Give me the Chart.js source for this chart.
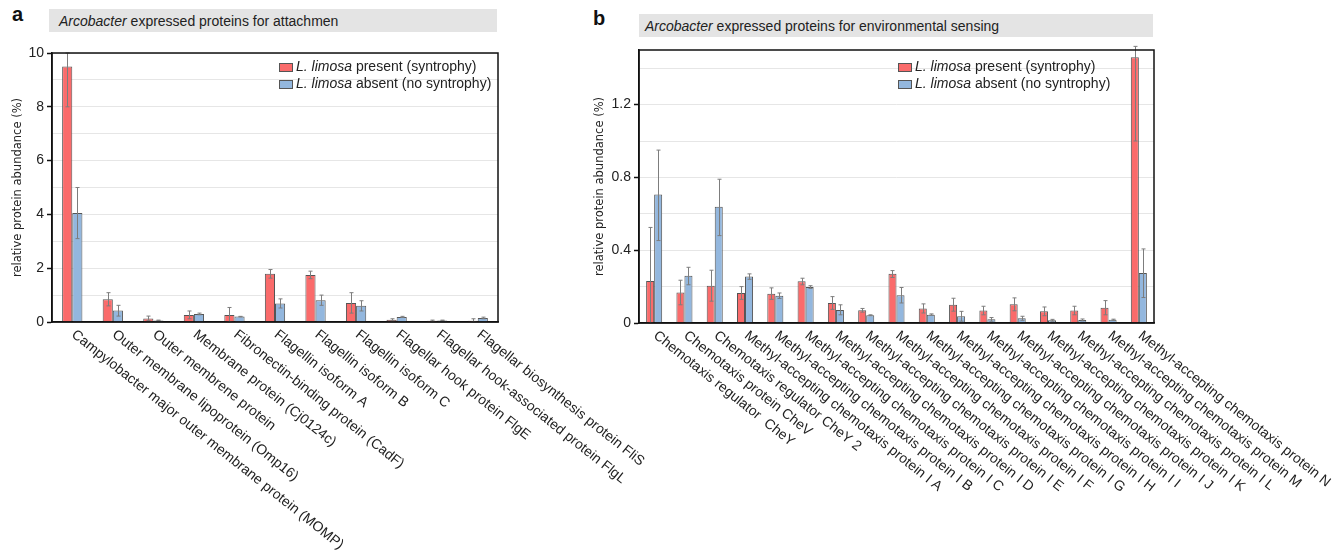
<!DOCTYPE html>
<html>
<head>
<meta charset="utf-8">
<script src="https://cdn.jsdelivr.net/npm/chart.js@4.4.0/dist/chart.umd.min.js"></script>
<style>
    body { margin: 0; background: #fff; width: 1339px; height: 555px; position: relative; overflow: hidden;
           font-family: 'Liberation Sans', Arial, sans-serif; }
    .wrap { position: absolute; top: 0; height: 555px; }
    .letter { position: absolute; font-weight: bold; font-size: 20px; color: #111; }
    .head { position: absolute; background: #e4e4e4; height: 23px; line-height: 24px; font-size: 14px;
            color: #222; white-space: nowrap; box-sizing: border-box; }
</style>
</head>
<body>
<div class="letter" style="left:12px;top:3px">a</div>
<div class="head" style="left:49px;top:9px;width:448px;padding-left:10px"><i>Arcobacter</i> expressed proteins for attachmen</div>
<div class="letter" style="left:593px;top:7px">b</div>
<div class="head" style="left:639px;top:14px;width:514px;padding-left:6px"><i>Arcobacter</i> expressed proteins for environmental sensing</div>

<div class="wrap" style="left:0;width:660px"><canvas id="chartA"></canvas></div>
<div class="wrap" style="left:580px;width:759px"><canvas id="chartB"></canvas></div>

<script>
// ---- panel a : attachment ----
var labelsA = [
    'Campylobacter major outer membrane protein (MOMP)',
    'Outer membrane lipoprotein (Omp16)',
    'Outer membrene protein',
    'Membrane protein (Cj0124c)',
    'Fibronectin-binding protein (CadF)',
    'Flagellin isoform A',
    'Flagellin isoform B',
    'Flagellin isoform C',
    'Flagellar hook protein FlgE',
    'Flagellar hook-associated protein FlgL',
    'Flagellar biosynthesis protein FliS'
];
var presentA   = [9.5, 0.85, 0.13, 0.26, 0.26, 1.79, 1.75, 0.71, 0.08, 0.05, 0.05];
var presentLoA = [8.0, 0.60, 0.05, 0.12, 0.00, 1.63, 1.61, 0.33, 0.04, 0.03, 0.00];
var presentHiA = [10.0, 1.09, 0.22, 0.41, 0.54, 1.95, 1.89, 1.09, 0.12, 0.07, 0.12];
var absentA    = [4.05, 0.43, 0.06, 0.30, 0.20, 0.69, 0.81, 0.60, 0.19, 0.06, 0.15];
var absentLoA  = [3.10, 0.22, 0.05, 0.27, 0.19, 0.52, 0.62, 0.41, 0.17, 0.05, 0.12];
var absentHiA  = [5.00, 0.62, 0.07, 0.33, 0.21, 0.86, 1.00, 0.79, 0.21, 0.07, 0.18];

// ---- panel b : environmental sensing ----
var labelsB = [
    'Chemotaxis regulator  CheY',
    'Chemotaxis protein CheV',
    'Chemotaxis regulator CheY 2',
    'Methyl-accepting chemotaxis protein I A',
    'Methyl-accepting chemotaxis protein I B',
    'Methyl-accepting chemotaxis protein I C',
    'Methyl-accepting chemotaxis protein I D',
    'Methyl-accepting chemotaxis protein I E',
    'Methyl-accepting chemotaxis protein I F',
    'Methyl-accepting chemotaxis protein I G',
    'Methyl-accepting chemotaxis protein I H',
    'Methyl-accepting chemotaxis protein I I',
    'Methyl-accepting chemotaxis protein I J',
    'Methyl-accepting chemotaxis protein I K',
    'Methyl-accepting chemotaxis protein I L',
    'Methyl-accepting chemotaxis protein M',
    'Methyl-accepting chemotaxis protein N'
];
var presentB   = [0.231, 0.167, 0.205, 0.165, 0.161, 0.229, 0.110, 0.070, 0.270, 0.079, 0.100, 0.068, 0.103, 0.064, 0.068, 0.084, 1.46];
var presentLoB = [0.000, 0.100, 0.120, 0.130, 0.130, 0.210, 0.075, 0.060, 0.250, 0.055, 0.065, 0.045, 0.067, 0.040, 0.045, 0.045, 1.00];
var presentHiB = [0.525, 0.235, 0.290, 0.200, 0.193, 0.246, 0.145, 0.080, 0.288, 0.105, 0.136, 0.092, 0.138, 0.088, 0.092, 0.123, 1.52];
var absentB    = [0.706, 0.260, 0.639, 0.255, 0.150, 0.198, 0.072, 0.042, 0.152, 0.046, 0.037, 0.020, 0.026, 0.015, 0.017, 0.018, 0.275];
var absentLoB  = [0.453, 0.210, 0.480, 0.240, 0.135, 0.190, 0.045, 0.040, 0.110, 0.043, 0.010, 0.010, 0.015, 0.010, 0.012, 0.015, 0.140];
var absentHiB  = [0.950, 0.306, 0.790, 0.270, 0.165, 0.205, 0.100, 0.045, 0.195, 0.050, 0.064, 0.030, 0.037, 0.020, 0.022, 0.021, 0.407];

var seriesNames = [' present (syntrophy)', ' absent (no syntrophy)'];
var colorPresent = '#fa6b6b';
var colorAbsent = '#93b7de';
var fontSans = '"Liberation Sans", Arial, sans-serif';

// error bars, frame, rotated category labels and the legend
var extras = {
    id: 'extras',
    afterDatasetsDraw: function (chart, args, opts) {
        var ctx = chart.ctx, ys = chart.scales.y;
        ctx.save();
        ctx.strokeStyle = '#7d7d7d';
        ctx.lineWidth = 1;
        opts.lo.forEach(function (lo, d) {
            var hi = opts.hi[d];
            chart.getDatasetMeta(d).data.forEach(function (bar, i) {
                var x = Math.round(bar.x) + 0.5;
                var y1 = ys.getPixelForValue(lo[i]), y2 = ys.getPixelForValue(hi[i]);
                ctx.beginPath();
                ctx.moveTo(x, y1); ctx.lineTo(x, y2);
                ctx.moveTo(x - 2, y1); ctx.lineTo(x + 2, y1);
                ctx.moveTo(x - 2, y2); ctx.lineTo(x + 2, y2);
                ctx.stroke();
            });
        });
        ctx.restore();
    },
    afterDraw: function (chart, args, opts) {
        var ctx = chart.ctx, a = chart.chartArea, xs = chart.scales.x;
        ctx.save();
        ctx.strokeStyle = '#111';
        ctx.lineWidth = 1.5;
        ctx.strokeRect(a.left, a.top, a.right - a.left, a.bottom - a.top);

        ctx.font = '14px ' + fontSans;
        ctx.fillStyle = '#222';
        ctx.textAlign = 'left';
        ctx.textBaseline = 'middle';
        chart.data.labels.forEach(function (t, i) {
            ctx.save();
            ctx.translate(xs.getPixelForTick(i) + 1, a.bottom + 11);
            ctx.rotate(38.5 * Math.PI / 180);
            ctx.fillText(t, 0, 0);
            ctx.restore();
        });

        // legend
        chart.data.datasets.forEach(function (ds, d) {
            var lx = a.left + opts.legendX, ly = a.top + opts.legendY + d * 17;
            ctx.fillStyle = ds.backgroundColor;
            ctx.fillRect(lx, ly - 4, 14, 9);
            ctx.strokeStyle = '#555';
            ctx.lineWidth = 1;
            ctx.strokeRect(lx + 0.5, ly - 3.5, 13, 8);
            ctx.fillStyle = '#222';
            ctx.font = 'italic 14px ' + fontSans;
            ctx.fillText('L. limosa', lx + 17, ly);
            var w = ctx.measureText('L. limosa').width;
            ctx.font = '14px ' + fontSans;
            ctx.fillText(seriesNames[d], lx + 17 + w, ly);
        });
        ctx.restore();
    }
};

function makeChart(id, labels, present, absent, lo, hi, yMax, step, isMajor, fmt, layout, legendPos, catPct) {
    var ctx = document.getElementById(id);
    return new Chart(ctx, {
        type: 'bar',
        data: {
            labels: labels,
            datasets: [{
                label: 'L. limosa' + seriesNames[0],
                data: present,
                backgroundColor: colorPresent,
                borderColor: '#555',
                borderWidth: 1,
                categoryPercentage: catPct,
                barPercentage: 1
            }, {
                label: 'L. limosa' + seriesNames[1],
                data: absent,
                backgroundColor: colorAbsent,
                borderColor: '#555',
                borderWidth: 1,
                categoryPercentage: catPct,
                barPercentage: 1
            }]
        },
        options: {
            responsive: true,
            maintainAspectRatio: false,
            animation: false,
            layout: { padding: layout.padding },
            plugins: {
                legend: { display: false },
                tooltip: { enabled: false },
                extras: { lo: lo, hi: hi, legendX: legendPos[0], legendY: legendPos[1] }
            },
            scales: {
                x: {
                    grid: { display: false, drawTicks: false },
                    border: { color: '#111', width: 1.5 },
                    ticks: { display: false }
                },
                y: {
                    min: 0,
                    max: yMax,
                    afterFit: function (s) { s.width = layout.axisW; },
                    border: { color: '#111', width: 1.5 },
                    grid: {
                        color: function (c) { return c.tick.value === 0 ? 'rgba(0,0,0,0)' : '#e6e6e6'; },
                        tickColor: function (c) { return isMajor(c.tick.value) ? '#111' : 'rgba(0,0,0,0)'; },
                        tickLength: 5,
                        tickWidth: 1.5
                    },
                    ticks: {
                        stepSize: step,
                        includeBounds: false,
                        autoSkip: false,
                        padding: 3,
                        color: '#222',
                        font: { family: fontSans, size: 14 },
                        callback: function (v) { return isMajor(v) ? fmt(v) : ''; }
                    },
                    title: {
                        display: true,
                        text: 'relative protein abundance (%)',
                        color: '#222',
                        font: { family: '"DejaVu Sans", sans-serif', size: 11.5 },
                        padding: { top: 3, bottom: 0 }
                    }
                }
            }
        },
        plugins: [extras]
    });
}

makeChart('chartA', labelsA, presentA, absentA,
    [presentLoA, absentLoA], [presentHiA, absentHiA],
    10, 1,
    function (v) { return Math.round(v) % 2 === 0; },
    function (v) { return String(Math.round(v)); },
    { padding: { left: 8, top: 53, right: 162, bottom: 233 }, axisW: 44 },
    [227, 14], 0.5);

makeChart('chartB', labelsB, presentB, absentB,
    [presentLoB, absentLoB], [presentHiB, absentHiB],
    1.5, 0.2,
    function (v) { return Math.round(v * 10) % 4 === 0; },
    function (v) { return String(Math.round(v * 10) / 10); },
    { padding: { left: 10, top: 50, right: 185, bottom: 232 }, axisW: 49 },
    [259, 17], 0.53);
</script>
</body>
</html>
